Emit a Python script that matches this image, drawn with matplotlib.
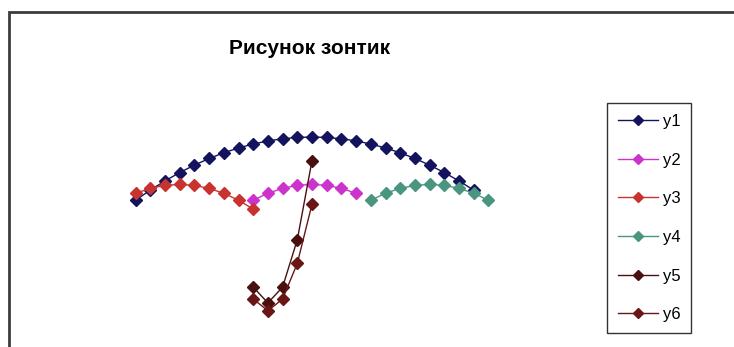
import matplotlib
matplotlib.use("Agg")
import matplotlib.pyplot as plt
from matplotlib.patches import Rectangle

# ---- data ----
x1 = [-12, -11, -10, -9, -8, -7, -6, -5, -4, -3, -2, -1, 0, 1, 2, 3, 4, 5, 6, 7, 8, 9, 10, 11]
y1 = [4.0, 5.28, 6.44, 7.5, 8.44, 9.28, 10.0, 10.61, 11.11, 11.5, 11.78, 11.94, 12.0,
      11.94, 11.78, 11.5, 11.11, 10.61, 10.0, 9.28, 8.44, 7.5, 6.44, 5.28]

x2 = [-4, -3, -2, -1, 0, 1, 2, 3]
y2 = [4.0, 4.875, 5.5, 5.875, 6.0, 5.875, 5.5, 4.875]

x3 = [-12, -11, -10, -9, -8, -7, -6, -5, -4]
y3 = [4.875, 5.5, 5.875, 6.0, 5.875, 5.5, 4.875, 4.0, 2.875]

x4 = [4, 5, 6, 7, 8, 9, 10, 11, 12]
y4 = [4.0, 4.875, 5.5, 5.875, 6.0, 5.875, 5.5, 4.875, 4.0]

x5 = [-4, -3, -2, -1, 0]
y5 = [-7.0, -9.0, -7.0, -1.0, 9.0]

x6 = [-4, -3, -2, -1, 0]
y6 = [-8.5, -10.0, -8.5, -4.0, 3.5]

labels = ["y1", "y2", "y3", "y4", "y5", "y6"]
title = "Рисунок зонтик"

colors = ["#14145e", "#cc33cc", "#c8332f", "#4a9580", "#4a1010", "#6a1616"]

W, H = 734, 347
fig = plt.figure(figsize=(W / 100, H / 100), dpi=100)
fig.patch.set_facecolor("white")

ax = fig.add_axes([0, 0, 1, 1])
ax.set_axis_off()

# pixel mapping: x=0 -> 312 px, 14.7 px/unit ; y=12 -> 137 px from top, 7.9 px/unit
x0px, sx = 312.0, 14.7
y12px, sy = 137.0, 7.9
ax.set_xlim(-x0px / sx, (W - x0px) / sx)
ax.set_ylim(12 - (H - y12px) / sy, 12 + y12px / sy)

series = [(x1, y1), (x2, y2), (x3, y3), (x4, y4), (x5, y5), (x6, y6)]
for (xs, ys), c, lab in zip(series, colors, labels):
    ax.plot(xs, ys, color=c, lw=1.0, marker="D", ms=6, mec=c, mfc=c, label=lab)

# chart border
fig.patches.append(Rectangle((9 / W, -0.05), 1.2, 1 - 12 / H + 0.05,
                             transform=fig.transFigure, fill=False,
                             edgecolor="#3c3c3c", lw=2.0))

fig.text(310 / W, 1 - 48 / H, title, ha="center", va="center",
         fontsize=15, fontweight="bold", family="Liberation Sans", color="black")

leg = ax.legend(loc="upper left", bbox_to_anchor=(607 / W, 1 - 103 / H),
                bbox_transform=fig.transFigure, frameon=True, fancybox=False,
                prop={"family": "Liberation Sans", "size": 12},
                handlelength=2.4, handletextpad=0.3, labelspacing=1.42,
                borderpad=0.65, borderaxespad=0, markerscale=0.85)
leg.get_frame().set_edgecolor("black")
leg.get_frame().set_linewidth(1.0)

fig.savefig("out.png", dpi=100, facecolor="white")
